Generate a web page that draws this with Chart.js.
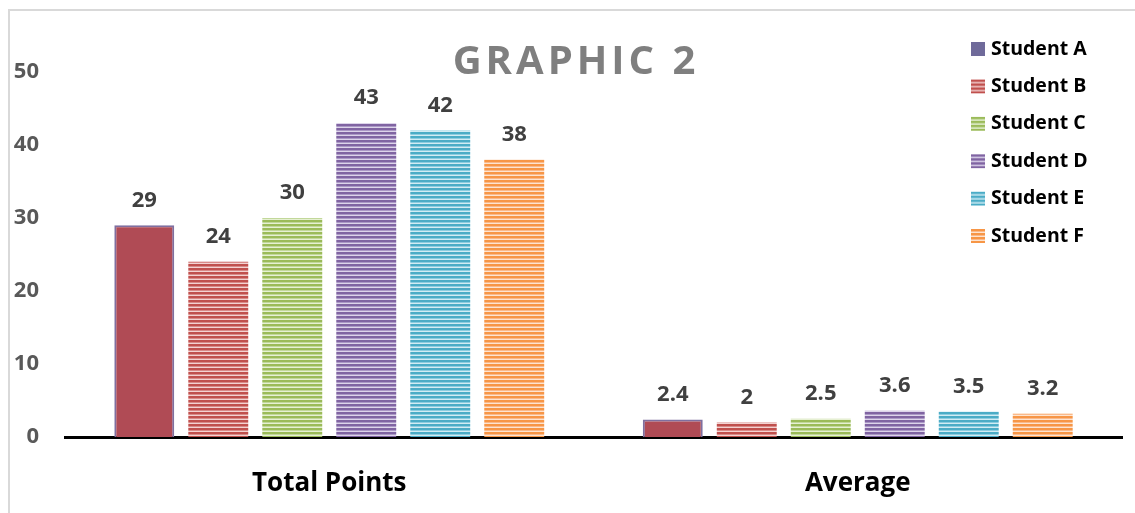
<!DOCTYPE html>
<html>
<head>
<meta charset="utf-8">
<script src="https://cdn.jsdelivr.net/npm/chart.js@4/dist/chart.umd.min.js"></script>
<style>
  html, body { margin: 0; padding: 0; background: #ffffff; }
  #wrap { width: 1135px; height: 513px; position: relative; }
</style>
</head>
<body>
<div id="wrap"><canvas id="c" width="1135" height="513"></canvas></div>
<script>
const categories = ["Total Points", "Average"];
const studentNames = ["Student A", "Student B", "Student C", "Student D", "Student E", "Student F"];
const studentA = [29, 2.4];
const studentB = [24, 2];
const studentC = [30, 2.5];
const studentD = [43, 3.6];
const studentE = [42, 3.5];
const studentF = [38, 3.2];
const yTicks = [0, 10, 20, 30, 40, 50];
const chartTitle = "GRAPHIC 2";

const seriesValues = [studentA, studentB, studentC, studentD, studentE, studentF];
const baseColors = ["#9c5068", "#c0504d", "#9bbb59", "#8064a2", "#4bacc6", "#f79646"];
const lightColors = [null, "#f3d2d1", "#e6f0d3", "#ddd4ea", "#d2ecf3", "#fde4d0"];
const midColors = [null, "#d88a88", "#c2d89a", "#ab98c6", "#8ccde0", "#fab98a"];

function stripe(color, mid, light) {
  const pc = document.createElement('canvas');
  pc.width = 8; pc.height = 4;
  const g = pc.getContext('2d');
  g.fillStyle = color; g.fillRect(0, 0, 8, 2);
  g.fillStyle = mid; g.fillRect(0, 2, 8, 1);
  g.fillStyle = light; g.fillRect(0, 3, 8, 1);
  return g.createPattern(pc, 'repeat');
}
const fills = baseColors.map((c, i) => i === 0 ? "#b04b55" : stripe(c, midColors[i], lightColors[i]));

const FONT = "'Open Sans', 'DejaVu Sans', sans-serif";

const datasets = studentNames.map((name, i) => ({
  label: name,
  data: seriesValues[i],
  backgroundColor: fills[i],
  borderColor: i === 0 ? "#7f6f9f" : baseColors[i],
  borderWidth: i === 0 ? 2 : 0,
  borderSkipped: 'bottom',
  categoryPercentage: 0.84,
  barPercentage: 0.81
}));

const decor = {
  id: 'decor',
  beforeDraw(chart) {
    const c = chart.ctx;
    c.save();
    c.strokeStyle = '#d9d9d9';
    c.lineWidth = 2;
    c.beginPath();
    c.moveTo(9, 600); c.lineTo(9, 10); c.lineTo(1200, 10);
    c.stroke();
    c.restore();
  },
  afterDraw(chart) {
    const c = chart.ctx;
    c.save();
    // title
    c.font = "bold 40px " + FONT;
    c.fillStyle = '#7f7f7f';
    c.textAlign = 'center';
    c.textBaseline = 'alphabetic';
    c.letterSpacing = '4px';
    c.fillText(chartTitle, 576, 74);
    c.letterSpacing = '0px';
    // data labels
    c.font = "bold 22px " + FONT;
    c.fillStyle = '#404040';
    c.textAlign = 'center';
    c.textBaseline = 'middle';
    chart.data.datasets.forEach((ds, di) => {
      const meta = chart.getDatasetMeta(di);
      meta.data.forEach((bar, j) => {
        c.fillText(String(ds.data[j]), bar.x, bar.y - 25);
      });
    });
    // legend
    c.font = "bold 19.5px " + FONT;
    c.textAlign = 'left';
    c.textBaseline = 'middle';
    chart.data.datasets.forEach((ds, di) => {
      const cy = 49 + di * 37.4;
      c.fillStyle = di === 0 ? '#6f6a9a' : ds.backgroundColor;
      c.save();
      c.translate(971, cy - 7);
      c.fillRect(0, 0, 14, 14);
      c.restore();
      c.fillStyle = '#000000';
      c.fillText(ds.label, 991, cy);
    });
    c.restore();
  }
};

new Chart(document.getElementById('c'), {
  type: 'bar',
  data: { labels: categories, datasets },
  options: {
    responsive: false,
    animation: false,
    devicePixelRatio: 1,
    layout: { padding: { left: 8, right: 13, top: 72, bottom: 0 } },
    plugins: { legend: { display: false }, title: { display: false }, tooltip: { enabled: false } },
    scales: {
      x: {
        grid: { display: false, drawTicks: false },
        border: { display: true, color: '#000000', width: 3 },
        ticks: { color: '#000000', font: { family: FONT, size: 26, weight: 'bold' }, padding: 31 },
        afterFit(s) { s.height = 76; }
      },
      y: {
        min: 0, max: 50,
        afterBuildTicks(s) { s.ticks = yTicks.map(v => ({ value: v })); },
        grid: { display: false, drawTicks: false },
        border: { display: false },
        ticks: { color: '#595959', font: { family: FONT, size: 22, weight: 'bold' }, padding: 26 },
        afterFit(s) { s.width = 57; }
      }
    }
  },
  plugins: [decor]
});
</script>
</body>
</html>
